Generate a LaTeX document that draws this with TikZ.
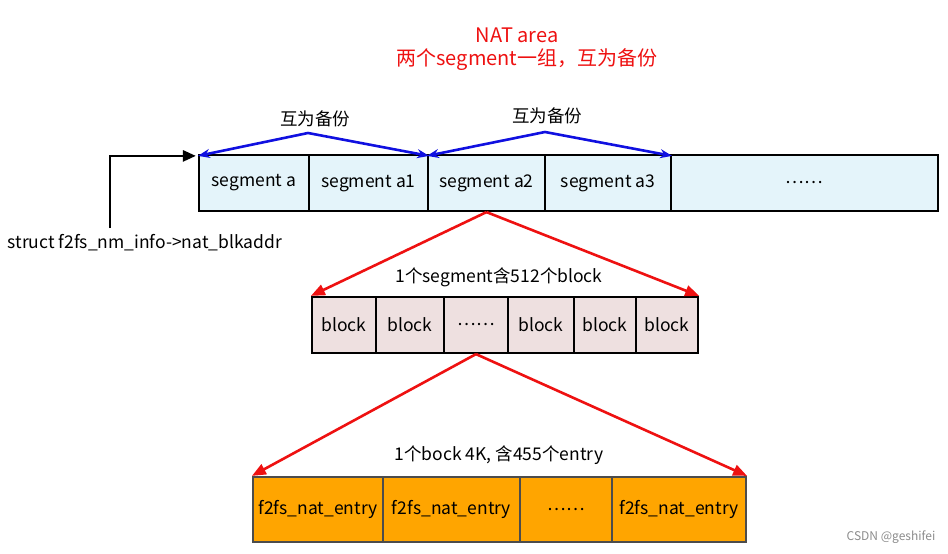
\documentclass[tikz,border=0pt]{standalone}
\usepackage{fontspec}
\setmainfont{Noto Sans CJK SC}
\usetikzlibrary{arrows.meta}
\definecolor{segfill}{HTML}{E4F4FA}
\definecolor{blkfill}{HTML}{EEE0E0}
\definecolor{entfill}{HTML}{FFA500}
\definecolor{myred}{HTML}{EE1111}
\definecolor{myblue}{HTML}{1010E0}
\tikzset{
  cell/.style={draw=black, line width=2.2pt, inner sep=0pt, font=\fontsize{17.5}{20}\selectfont},
  segcell/.style={cell, fill=segfill, minimum height=56pt},
  blkcell/.style={cell, fill=blkfill, minimum height=56pt},
  entcell/.style={cell, draw=black!70, fill=entfill, minimum height=65pt},
  lbl/.style={font=\fontsize{17.5}{20}\selectfont, inner sep=0pt},
  redarr/.style={draw=myred, line width=2.6pt, -{Triangle[length=14pt,width=11pt]}},
  bluearr/.style={draw=myblue, line width=2.6pt, {Stealth[length=12pt,width=9pt]}-{Stealth[length=12pt,width=9pt]}},
  blackarr/.style={draw=black, line width=2.6pt, -{Triangle[length=13pt,width=11pt]}},
}
\begin{document}
\begin{tikzpicture}[x=1pt,y=-1pt]
\useasboundingbox (0,0) rectangle (948,554);
% title
\node[lbl, text=myred, font=\fontsize{20}{24}\selectfont] (t1) at (517,35) {NAT area};
\node[lbl, text=myred, font=\fontsize{20}{24}\selectfont] (t2) at (527,60) {两个segment一组，互为备份};
% top row
\node[segcell, minimum width=110pt] (s1) at (254,183) {segment a};
\node[segcell, minimum width=119pt] (s2) at (368.5,183) {segment a1};
\node[segcell, minimum width=117pt] (s3) at (486.5,183) {segment a2};
\node[segcell, minimum width=126pt] (s4) at (608,183) {segment a3};
\node[segcell, minimum width=267pt] (s5) at (804.5,183) {……};
% backup arrows
\coordinate (p1) at (308,133);
\coordinate (p2) at (545,132);
\draw[bluearr, line join=round] ([yshift=-2pt]s1.north west) -- (p1) -- ([yshift=-2pt]s2.north east);
\draw[bluearr, line join=round] ([yshift=-2pt]s3.north west) -- (p2) -- ([yshift=-2pt]s4.north east);
\node[lbl] (l1) at (315,119) {互为备份};
\node[lbl] (l2) at (547,116) {互为备份};
% pointer
\node[lbl] (ptr) at (145,243) {struct f2fs\_nm\_info->nat\_blkaddr};
\coordinate (c0) at (110,228);
\draw[blackarr] (c0) |- ([yshift=-2pt,xshift=-2pt]s1.north west);
% block row
\node[blkcell, minimum width=64pt] (b1) at (344,325) {block};
\node[blkcell, minimum width=68pt] (b2) at (410,325) {block};
\node[blkcell, minimum width=64pt] (b3) at (476,325) {……};
\node[blkcell, minimum width=66pt] (b4) at (541,325) {block};
\node[blkcell, minimum width=62pt] (b5) at (605,325) {block};
\node[blkcell, minimum width=62pt] (b6) at (667,325) {block};
\draw[redarr] (s3.south) -- (b1.north west);
\draw[redarr] (s3.south) -- (b6.north east);
\node[lbl] (l3) at (499,277) {1个segment含512个block};
% entry row
\node[entcell, minimum width=130pt] (e1) at (318,509.5) {f2fs\_nat\_entry};
\node[entcell, minimum width=137pt] (e2) at (451.5,509.5) {f2fs\_nat\_entry};
\node[entcell, minimum width=92pt] (e3) at (566,509.5) {……};
\node[entcell, minimum width=134pt] (e4) at (679,509.5) {f2fs\_nat\_entry};
\draw[redarr] (b3.south) -- (e1.north west);
\draw[redarr] (b3.south) -- (e4.north east);
\node[lbl] (l4) at (499,455) {1个bock 4K, 含455个entry};
% watermark
\node[lbl, text=black!45, font=\fontsize{12}{14}\selectfont] (wm) at (891,537) {CSDN @geshifei};
\end{tikzpicture}
\end{document}
